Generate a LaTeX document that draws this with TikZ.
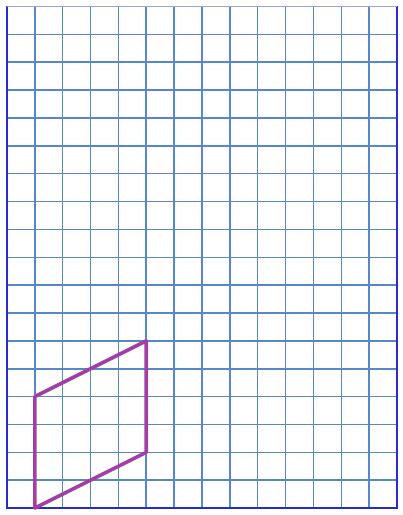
\documentclass[tikz,border=0pt]{standalone}
\usepackage{xcolor}

\definecolor{gridblue}{RGB}{86,136,200}
\definecolor{frameblue}{RGB}{36,44,210}
\definecolor{shapepurple}{RGB}{160,64,164}

\tikzset{
  gridline/.style={gridblue, line width=1.1pt},
  frameline/.style={frameblue, line width=1.3pt},
  shapeline/.style={shapepurple, line width=2.6pt, line join=round}
}

\begin{document}
\begin{tikzpicture}[x=0.7cm,y=0.7cm]
\useasboundingbox (-0.25,-0.25) rectangle (14.215,18.235);

% grid
\foreach \i in {1,...,13}
  \draw[gridline] (\i,0) -- (\i,18);
\foreach \j in {1,...,17}
  \draw[gridline] (0,\j) -- (14,\j);

% frame
\draw[frameline] (0,0) rectangle (14,18);
\draw[frameblue!45, line width=1.3pt] (0,18) -- (14,18);

% parallelogram
\coordinate (p1) at (1,0);
\coordinate (p2) at (1,4);
\coordinate (p3) at (5,6);
\coordinate (p4) at (5,2);

\draw[shapeline] (p1) -- (p2) -- (p3) -- (p4) -- cycle;

\end{tikzpicture}
\end{document}
